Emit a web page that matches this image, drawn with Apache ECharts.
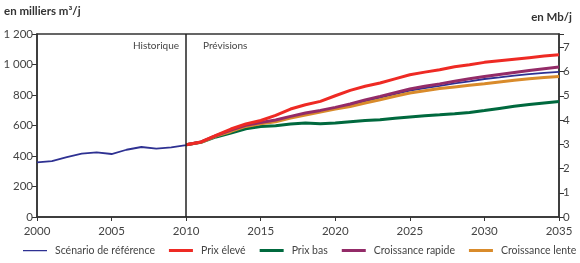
<!DOCTYPE html>
<html>
<head>
<meta charset="utf-8">
<script src="https://cdn.jsdelivr.net/npm/echarts@6/dist/echarts.min.js"></script>
<style>
  html, body { margin: 0; padding: 0; background: #fff; }
  #chart { width: 580px; height: 263px; }
</style>
</head>
<body>
<div id="chart"></div>
<script>
// historique 2000-2010 (milliers m³/j)
const histYears = [2000, 2001, 2002, 2003, 2004, 2005, 2006, 2007, 2008, 2009, 2010];
const histValues = [358, 367, 393, 415, 424, 413, 441, 459, 448, 456, 472];

// prévisions 2010-2035
const projYears = [2010, 2011, 2012, 2013, 2014, 2015, 2016, 2017, 2018, 2019, 2020, 2021, 2022,
  2023, 2024, 2025, 2026, 2027, 2028, 2029, 2030, 2031, 2032, 2033, 2034, 2035];
const reference = [472, 490, 530, 565, 595, 615, 630, 653, 675, 692, 712, 733, 758,
  782, 805, 828, 845, 860, 876, 890, 905, 915, 927, 937, 945, 951];
const prixEleve = [474, 492, 535, 577, 610, 633, 666, 708, 736, 758, 795, 830, 857,
  879, 906, 933, 950, 965, 985, 998, 1014, 1025, 1035, 1045, 1055, 1064];
const prixBas = [474, 490, 525, 551, 579, 594, 599, 610, 616, 612, 616, 625, 633,
  638, 648, 656, 664, 670, 677, 685, 698, 712, 726, 737, 748, 758];
const croissanceRapide = [474, 492, 533, 570, 601, 620, 636, 660, 682, 699, 719, 741, 768,
  791, 815, 839, 857, 873, 890, 906, 922, 935, 948, 960, 972, 983];
const croissanceLente = [474, 490, 530, 561, 594, 612, 625, 649, 669, 689, 708, 725, 748,
  769, 792, 813, 828, 842, 853, 864, 874, 885, 896, 906, 914, 922];

const leftTicks = [0, 200, 400, 600, 800, 1000, 1200];
const rightTicks = [0, 1, 2, 3, 4, 5, 6, 7];

const FONT = "Lato";
const COLORS = {
  ref: "#2e3192", haut: "#ee2a24", bas: "#00693e", rapide: "#932b68", lente: "#d98b2b"
};
const pairs = (xs, ys) => xs.map((x, i) => [x, ys[i]]);

let myChart = echarts.init(document.getElementById("chart"));
myChart.setOption({
  animation: false,
  textStyle: { fontFamily: FONT },
  grid: {
    left: 37, right: 21, top: 34, bottom: 46,
    show: true, borderColor: "#333", borderWidth: 1.5
  },
  legend: {
    bottom: 2, left: 18, width: 570,
    icon: "rect", itemWidth: 24, itemHeight: 3, itemGap: 14,
    textStyle: { fontFamily: FONT, fontSize: 10.5, color: "#444", padding: [0, 0, 0, 3] },
    data: [
      // ligne plus fine pour le scénario de référence
      { name: "Scénario de référence", icon: "path://M0,0H24V0.02H0ZM0,1H24V2.2H0ZM0,2.98H24V3H0Z" },
      { name: "Prix élevé" },
      { name: "Prix bas" },
      { name: "Croissance rapide" },
      { name: "Croissance lente" }
    ]
  },
  graphic: [
    { type: "text", right: 8, top: 11, style: { text: "en Mb/j", font: "bold 11.5px " + FONT, fill: "#333" } },
    { type: "text", left: 4, top: 5, style: { text: "en milliers m³/j", font: "bold 11.5px " + FONT, fill: "#333" } },
    { type: "text", left: 133, top: 41, style: { text: "Historique", font: "10px " + FONT, fill: "#444" } },
    { type: "text", left: 203, top: 41, style: { text: "Prévisions", font: "10px " + FONT, fill: "#444" } }
  ],
  xAxis: {
    type: "value", min: 2000, max: 2035, interval: 5,
    axisLine: { lineStyle: { color: "#333", width: 1.5 } },
    axisTick: { show: true, length: 4, lineStyle: { color: "#333" } },
    axisLabel: { color: "#444", fontSize: 11.5, margin: 8, formatter: v => String(v) },
    splitLine: { show: false }
  },
  yAxis: [
    {
      type: "value", min: leftTicks[0], max: leftTicks[leftTicks.length - 1], interval: 200,
      axisLine: { show: true, lineStyle: { color: "#333", width: 1.5 } },
      axisTick: { show: true, length: 5, lineStyle: { color: "#333" } },
      axisLabel: { color: "#444", fontSize: 11.5, margin: 4,
        formatter: v => v >= 1000 ? Math.floor(v / 1000) + " " + String(v % 1000).padStart(3, "0") : String(v) },
      splitLine: { show: false }
    },
    {
      type: "value", min: 0, max: 1200 * 6.29 / 1000, interval: 1,
      position: "right",
      axisLine: { show: true, lineStyle: { color: "#333", width: 1.5 } },
      axisTick: { show: true, length: 5, lineStyle: { color: "#333" } },
      axisLabel: { color: "#444", fontSize: 11.5, margin: 4,
        formatter: v => rightTicks.indexOf(v) >= 0 ? String(v) : "" },
      splitLine: { show: false }
    }
  ],
  series: [
    {
      name: "Scénario de référence", type: "line", symbol: "none",
      data: pairs(histYears, histValues).concat(pairs(projYears, reference).slice(1)),
      itemStyle: { color: COLORS.ref },
      lineStyle: { color: COLORS.ref, width: 1.8 },
      z: 2,
      markLine: {
        silent: true, symbol: "none", label: { show: false },
        lineStyle: { color: "#222", width: 1.5, type: "solid" },
        data: [{ xAxis: 2010 }]
      }
    },
    {
      name: "Prix bas", type: "line", symbol: "none",
      data: pairs(projYears, prixBas),
      itemStyle: { color: COLORS.bas },
      lineStyle: { color: COLORS.bas, width: 3 }, z: 3
    },
    {
      name: "Croissance lente", type: "line", symbol: "none",
      data: pairs(projYears, croissanceLente),
      itemStyle: { color: COLORS.lente },
      lineStyle: { color: COLORS.lente, width: 3 }, z: 3
    },
    {
      name: "Croissance rapide", type: "line", symbol: "none",
      data: pairs(projYears, croissanceRapide),
      itemStyle: { color: COLORS.rapide },
      lineStyle: { color: COLORS.rapide, width: 3 }, z: 3
    },
    {
      name: "Prix élevé", type: "line", symbol: "none",
      data: pairs(projYears, prixEleve),
      itemStyle: { color: COLORS.haut },
      lineStyle: { color: COLORS.haut, width: 3 }, z: 4
    }
  ]
});
</script>
</body>
</html>
